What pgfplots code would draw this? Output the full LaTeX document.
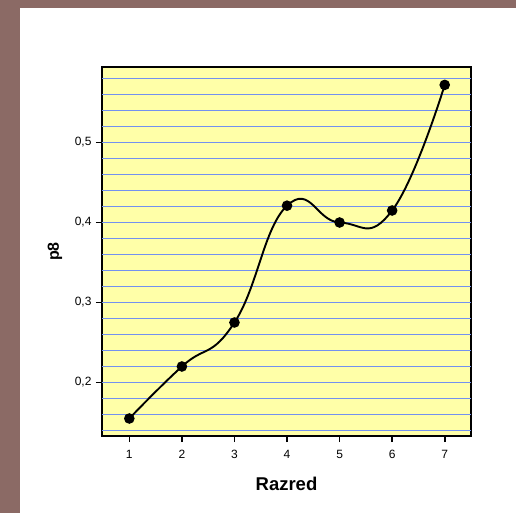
\documentclass[border=0pt]{standalone}
\usepackage{pgfplots}
\pgfplotsset{compat=1.18}
\usetikzlibrary{backgrounds,calc}
\usepackage{fontspec}
\setmainfont{Liberation Sans}
\definecolor{frame}{RGB}{139,106,101}
\definecolor{paper}{RGB}{255,255,168}
\definecolor{gridblue}{RGB}{115,145,240}

\begin{document}
\begin{tikzpicture}[x=1pt,y=1pt]
  \begin{axis}[
    width=369pt, height=369pt, scale only axis,
    xmin=0.48, xmax=7.5,
    % 0.02 = 16pt, so the grid lines sit on whole pixels
    ymin=0.133125, ymax=0.594375,
    axis background/.style={fill=paper},
    axis line style={line width=1.2pt},
    xtick={1,...,7},
    ytick={0.2,0.3,0.4,0.5},
    extra y ticks={0.14,0.16,0.18,0.2,0.22,0.24,0.26,0.28,0.3,0.32,0.34,0.36,0.38,0.4,0.42,0.44,0.46,0.48,0.5,0.52,0.54,0.56,0.58},
    extra y tick labels={},
    extra y tick style={ymajorgrids=true, major tick length=0pt,
      major grid style={gridblue, line width=1pt}},
    tick align=outside,
    major tick length=6pt,
    major tick style={black, line width=1.6pt},
    xtick pos=bottom, ytick pos=left,
    /pgf/number format/assume math mode=true,
    /pgf/number format/use comma,
    /pgf/number format/fixed,
    /pgf/number format/precision=1,
    yticklabel style={font=\fontsize{12}{13}\selectfont, xshift=-1pt},
    xticklabel style={font=\fontsize{12}{13}\selectfont, yshift=-5pt},
    xlabel={\textbf{Razred}},
    ylabel={\textbf{p8}},
    every axis x label/.style={at={(rel axis cs:0.5,0)}, yshift=-48pt, anchor=center,
      font=\fontsize{18.5}{20}\selectfont},
    every axis y label/.style={at={(rel axis cs:0,0.5)}, xshift=-47pt, rotate=90, anchor=center,
      font=\fontsize{16}{18}\selectfont},
  ]
    \coordinate (P) at (rel axis cs:0,0);
    \addplot[black, line width=1.9pt, smooth, tension=0.8,
      mark=*, mark size=4.3pt, mark options={fill=black}]
      coordinates {
        (1,0.155) (2,0.220) (3,0.275) (4,0.421)
        (5,0.400) (6,0.415) (7,0.572)
      };
  \end{axis}
  % outer frame, placed from the lower left corner of the plot area
  \begin{scope}[on background layer, shift={(P)}]
    \fill[frame] (-102,-77) rectangle (414,436);
    \fill[white] (-82,-77) rectangle (414,428);
  \end{scope}
  \pgfresetboundingbox
  \useasboundingbox ($(P)+(-102,-77)$) rectangle ($(P)+(414,436)$);
\end{tikzpicture}
\end{document}
